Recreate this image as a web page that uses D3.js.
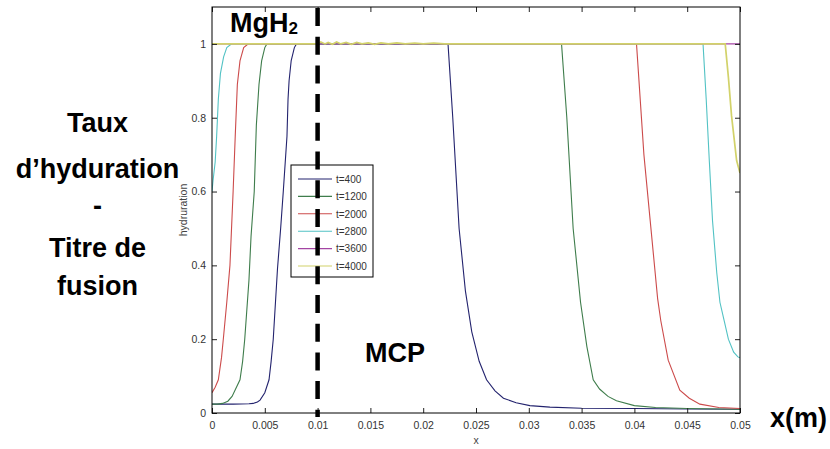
<!DOCTYPE html>
<html>
<head>
<meta charset="utf-8">
<script src="https://cdn.jsdelivr.net/npm/d3@7"></script>
<style>
  html, body { margin: 0; padding: 0; background: #fff; }
  svg { display: block; }
  text { font-family: Arial, "Liberation Sans", sans-serif; }
</style>
</head>
<body>
<svg id="chart" width="830" height="449"></svg>
<script>
// ---- data ----
const xTicks = [0, 0.005, 0.01, 0.015, 0.02, 0.025, 0.03, 0.035, 0.04, 0.045, 0.05];
const xTickLabels = ["0", "0.005", "0.01", "0.015", "0.02", "0.025", "0.03", "0.035", "0.04", "0.045", "0.05"];
const yTicks = [0, 0.2, 0.4, 0.6, 0.8, 1];
const yTickLabels = ["0", "0.2", "0.4", "0.6", "0.8", "1"];

const seriesNames = ["t=400", "t=1200", "t=2000", "t=2800", "t=3600", "t=4000"];
const seriesColors = ["#23236e", "#3f7d4c", "#cc4b4b", "#52c2c4", "#a345a3", "#d2d26a"];

const t400 = [[0,0.024],[0.002,0.024],[0.0035,0.025],[0.0039,0.026],[0.0043,0.03],[0.00455,0.035],[0.005,0.055],[0.0054,0.09],[0.0056,0.14],[0.0058,0.2],[0.0062,0.39],[0.0065,0.5],[0.00675,0.6],[0.0071,0.75],[0.0072,0.85],[0.0073,0.9],[0.0075,0.955],[0.0078,0.99],[0.008,1],
  [0.02235,1],[0.0228,0.8],[0.0234,0.5],[0.024,0.33],[0.0246,0.22],[0.0253,0.14],[0.026,0.09],[0.0268,0.06],[0.0276,0.04],[0.0288,0.028],[0.0301,0.02],[0.032,0.016],[0.035,0.013],[0.04,0.012],[0.045,0.011],[0.05,0.01]];
const t1200 = [[0,0.024],[0.0005,0.024],[0.001,0.026],[0.0015,0.032],[0.0019,0.045],[0.00265,0.09],[0.0029,0.14],[0.0031,0.2],[0.0035,0.36],[0.0037,0.48],[0.004,0.6],[0.0042,0.78],[0.00445,0.89],[0.0047,0.954],[0.005,0.99],[0.0052,1],
  [0.0331,1],[0.0336,0.8],[0.0342,0.5],[0.0349,0.3],[0.0355,0.18],[0.0361,0.09],[0.0367,0.065],[0.0375,0.045],[0.0383,0.033],[0.04,0.02],[0.042,0.015],[0.045,0.012],[0.05,0.01]];
const t2000 = [[0,0.055],[0.0003,0.07],[0.0006,0.09],[0.0009,0.15],[0.00107,0.2],[0.0014,0.3],[0.0017,0.4],[0.002,0.6],[0.0022,0.75],[0.0024,0.89],[0.00265,0.954],[0.003,0.99],[0.00344,1],
  [0.0402,1],[0.0409,0.7],[0.0415,0.52],[0.0422,0.31],[0.0425,0.25],[0.0432,0.143],[0.0443,0.062],[0.0452,0.04],[0.0462,0.024],[0.048,0.015],[0.05,0.012]];
const t2800 = [[0,0.6],[0.0001,0.63],[0.0003,0.68],[0.00044,0.75],[0.0006,0.85],[0.0008,0.92],[0.0011,0.965],[0.0014,0.99],[0.00186,1],
  [0.0465,1],[0.0468,0.85],[0.0471,0.68],[0.0474,0.52],[0.0478,0.38],[0.0481,0.3],[0.0485,0.25],[0.0489,0.2],[0.0494,0.165],[0.0498,0.152],[0.05,0.15]];
const t3600 = [[0,1],[0.05,1]];
const t4000 = [[0,1],[0.01,1],[0.0103,1.005],[0.0107,1.0],[0.011,1.004],[0.0114,0.999],[0.0118,1.005],[0.0122,1.0],[0.0127,1.004],[0.0132,0.999],[0.0137,1.004],[0.0142,1.0],[0.0148,1.003],[0.0154,0.999],[0.016,1.003],[0.0167,1.0],[0.0175,1.003],[0.0183,1.0],[0.0192,1.002],[0.02,1.0],[0.021,1.002],[0.022,1.0],
  [0.0486,1],[0.0489,0.91],[0.0492,0.805],[0.04968,0.684],[0.05,0.65]];
const seriesData = [t400, t1200, t2000, t2800, t3600, t4000];

// ---- layout ----
const svg = d3.select("#chart");
const L = 212, R = 740, T = 7, B = 413;
const x = d3.scaleLinear().domain([0, 0.05]).range([L, R]);
const y = d3.scaleLinear().domain([0, 1.1]).range([B, T]);

// lines
const line = d3.line().x(d => x(d[0])).y(d => y(d[1]));
svg.append("defs").append("clipPath").attr("id", "clip")
  .append("rect").attr("x", L).attr("y", T).attr("width", R - L).attr("height", B - T);
const g = svg.append("g").attr("clip-path", "url(#clip)");
seriesData.forEach((s, i) => {
  g.append("path").datum(s).attr("d", line)
    .attr("fill", "none").attr("stroke", seriesColors[i])
    .attr("stroke-width", i === 5 ? 1.7 : 1.1);
});

// axes (ticks inward, on all four sides)
const axStyle = sel => {
  sel.selectAll(".domain").remove();
  sel.selectAll(".tick line").attr("stroke", "#222");
  sel.selectAll(".tick text").attr("fill", "#333").style("font-size", "10.5px")
    .style("font-family", "Arial, 'Liberation Sans', sans-serif");
};
svg.append("g").attr("transform", `translate(0,${B})`)
  .call(d3.axisBottom(x).tickValues(xTicks).tickSize(-5).tickPadding(9)
    .tickFormat((d, i) => xTickLabels[i])).call(axStyle);
svg.append("g").attr("transform", `translate(0,${T})`)
  .call(d3.axisTop(x).tickValues(xTicks).tickSize(-5).tickFormat("")).call(axStyle);
svg.append("g").attr("transform", `translate(${L},0)`)
  .call(d3.axisLeft(y).tickValues(yTicks).tickSize(-5).tickPadding(6)
    .tickFormat((d, i) => yTickLabels[i])).call(axStyle);
svg.append("g").attr("transform", `translate(${R},0)`)
  .call(d3.axisRight(y).tickValues(yTicks).tickSize(-5).tickFormat("")).call(axStyle);

svg.append("rect").attr("x", L).attr("y", T).attr("width", R - L).attr("height", B - T)
  .attr("fill", "none").attr("stroke", "#000").attr("stroke-width", 1);

// axis titles (small, MATLAB)
svg.append("text").attr("x", (L + R) / 2).attr("y", 444).attr("text-anchor", "middle")
  .attr("fill", "#444").style("font-size", "10.5px").text("x");
svg.append("text").attr("transform", `translate(187,${(T + B) / 2}) rotate(-90)`)
  .attr("text-anchor", "middle").attr("fill", "#444").style("font-size", "10.5px").text("hydruration");

// legend
const lg = svg.append("g");
lg.append("rect").attr("x", 291).attr("y", 165).attr("width", 82).attr("height", 112)
  .attr("fill", "#fff").attr("stroke", "#000").attr("stroke-width", 1);
seriesNames.forEach((n, i) => {
  const yy = 179 + i * 17.4;
  lg.append("line").attr("x1", 298).attr("x2", 332).attr("y1", yy).attr("y2", yy)
    .attr("stroke", seriesColors[i]).attr("stroke-width", 1.1);
  lg.append("text").attr("x", 336).attr("y", yy + 3.8).attr("fill", "#333")
    .style("font-size", "10px").text(n);
});

// dashed separator at x = 0.01
svg.append("line").attr("x1", x(0.01)).attr("x2", x(0.01)).attr("y1", 8).attr("y2", 417)
  .attr("stroke", "#000").attr("stroke-width", 4.5).attr("stroke-dasharray", "18,10.7");

// annotations
const mg = svg.append("text").attr("x", 230).attr("y", 32).attr("font-weight", "bold")
  .style("font-size", "27px").attr("fill", "#000");
mg.append("tspan").text("MgH");
mg.append("tspan").attr("dy", 2).style("font-size", "17px").text("2");

svg.append("text").attr("x", 365).attr("y", 362).attr("font-weight", "bold")
  .style("font-size", "27px").attr("fill", "#000").text("MCP");
svg.append("text").attr("x", 770).attr("y", 427).attr("font-weight", "bold")
  .style("font-size", "27px").attr("fill", "#000").text("x(m)");

const leftLabels = ["Taux", "d\u2019hyduration", "-", "Titre de", "fusion"];
const leftBaselines = [132, 178, 215, 257, 295];
leftLabels.forEach((t, i) => {
  svg.append("text").attr("x", 97.5).attr("y", leftBaselines[i]).attr("text-anchor", "middle")
    .attr("font-weight", "bold").style("font-size", "27px").attr("fill", "#000").text(t);
});
</script>
</body>
</html>
